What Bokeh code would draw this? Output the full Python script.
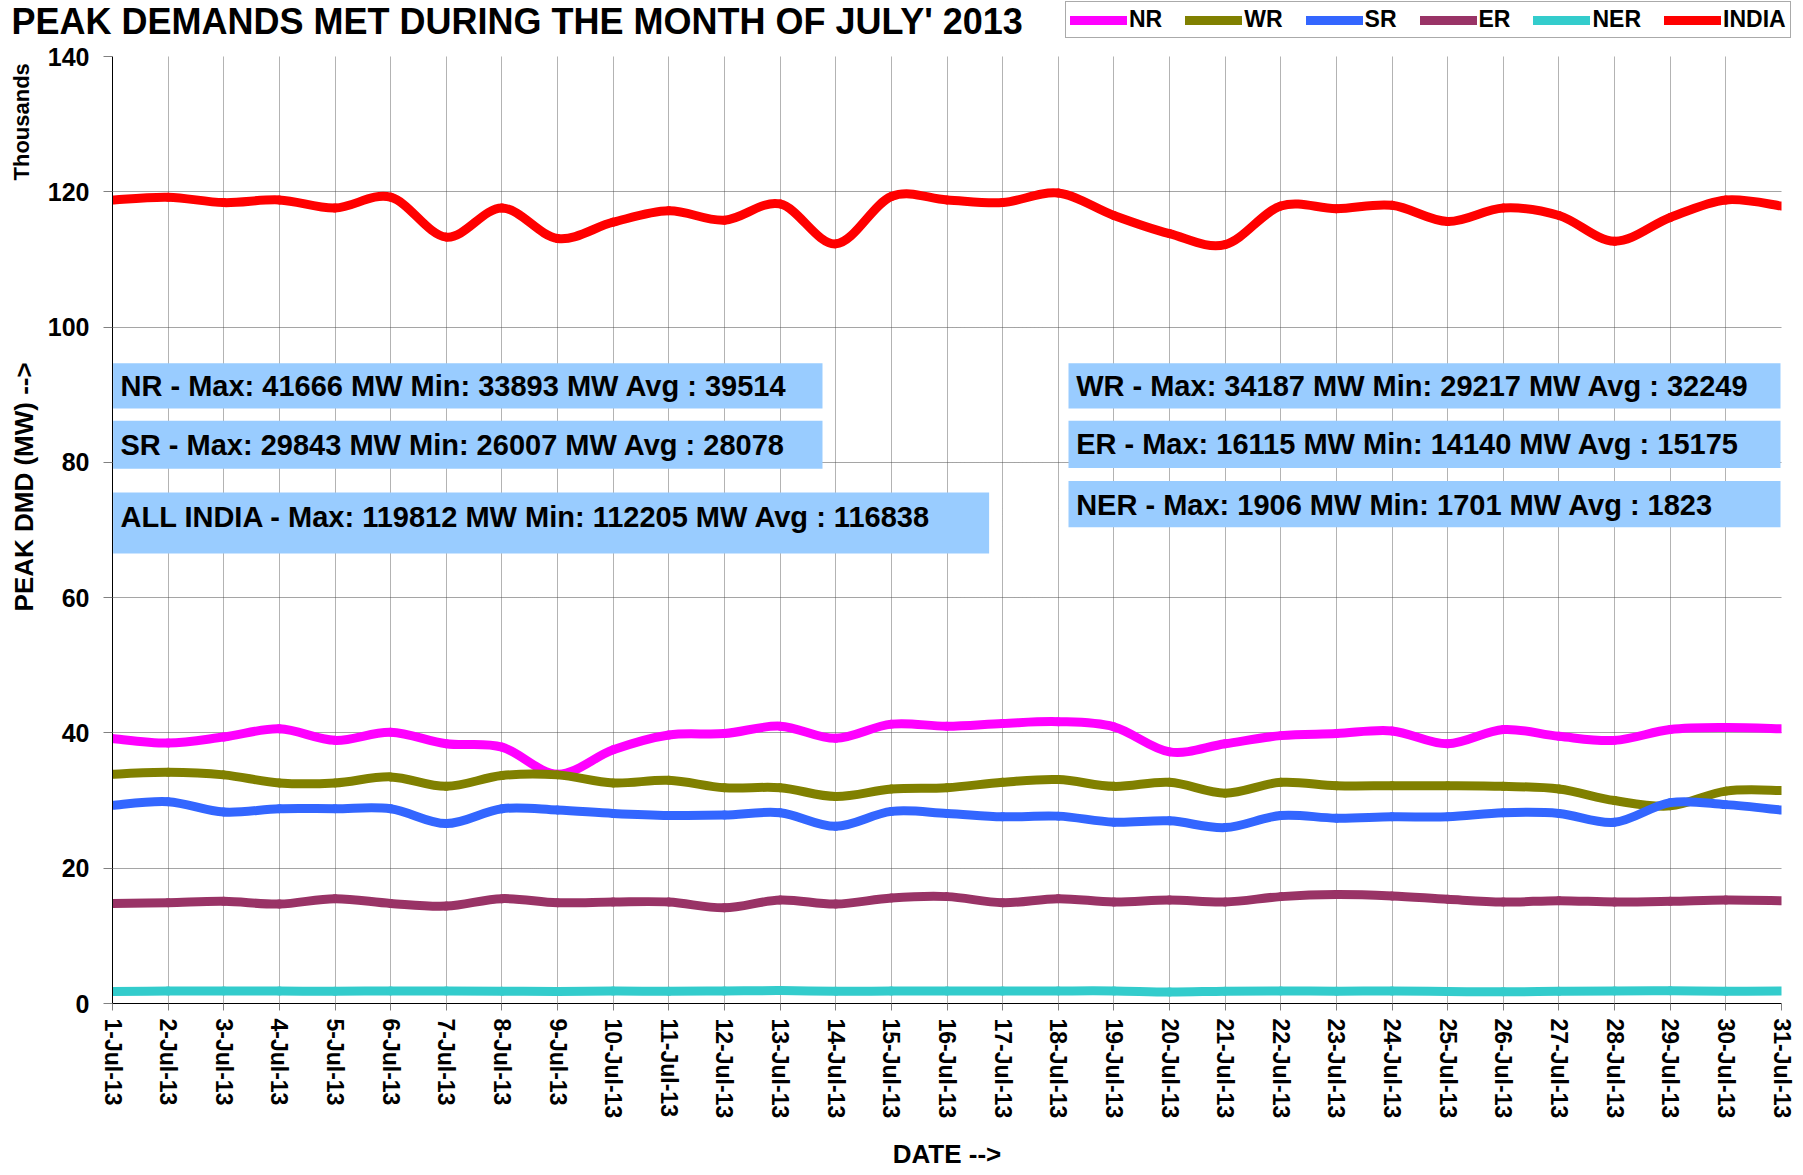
import math
from bokeh.plotting import figure
from bokeh.layouts import column, row
from bokeh.models import (FixedTicker, Label, BoxAnnotation, Legend, LegendItem,
                          ColumnDataSource, Range1d)
from bokeh.embed import file_html
from bokeh.resources import INLINE

# ---------------- data (MW) ----------------
days = list(range(1, 32))
date_labels = [f"{d}-Jul-13" for d in days]

nr = [39170, 38500, 39400, 40600, 38900, 40100, 38400, 37900, 33893, 37500,
      39700, 39900, 41000, 39200, 41300, 41000, 41400, 41666, 40900, 37200,
      38400, 39600, 39900, 40300, 38400, 40500, 39500, 38900, 40500, 40800, 40600]
wr = [33900, 34187, 33800, 32600, 32600, 33500, 32100, 33700, 33800, 32600,
      33000, 31900, 31900, 30600, 31700, 31900, 32700, 33100, 32100, 32700,
      31100, 32700, 32200, 32200, 32200, 32100, 31700, 30000, 29217, 31400, 31500]
sr = [29300, 29843, 28300, 28800, 28800, 28800, 26600, 28800, 28600, 28100,
      27800, 27850, 28200, 26200, 28400, 28100, 27600, 27700, 26800, 27000,
      26007, 27800, 27400, 27600, 27600, 28200, 28100, 26800, 29700, 29400, 28600]
er = [14800, 14900, 15100, 14700, 15500, 14800, 14400, 15500, 14900, 15000,
      15000, 14140, 15300, 14700, 15600, 15800, 14900, 15500, 15000, 15300,
      15000, 15800, 16115, 15900, 15400, 15000, 15200, 15000, 15100, 15300, 15200]
ner = [1780, 1850, 1860, 1850, 1800, 1860, 1850, 1820, 1760, 1830,
       1800, 1850, 1906, 1820, 1840, 1850, 1830, 1860, 1860, 1701,
       1820, 1860, 1820, 1840, 1780, 1720, 1800, 1860, 1870, 1820, 1850]
india = [118800, 119200, 118400, 118800, 117600, 119200, 113300, 117600, 113100, 115500,
         117200, 115800, 118200, 112300, 119300, 118800, 118400, 119812, 116500, 113800,
         112205, 117900, 117500, 118000, 115600, 117600, 116500, 112700, 116200, 118800, 117900]

series_names = ["NR", "WR", "SR", "ER", "NER", "INDIA"]
series_values = [nr, wr, sr, er, ner, india]
series_colors = ["#FF00FF", "#808000", "#3366FF", "#993366", "#33CCCC", "#FF0000"]

y_ticks = [0, 20, 40, 60, 80, 100, 120, 140]

title_text = "PEAK DEMANDS MET DURING THE MONTH OF JULY' 2013"
y_label_text = "PEAK DMD (MW) -->"
units_text = "Thousands"
x_label_text = "DATE -->"
left_stats = ["NR - Max: 41666 MW Min: 33893 MW Avg : 39514",
              "SR - Max: 29843 MW Min: 26007 MW Avg : 28078",
              "ALL INDIA - Max: 119812 MW Min: 112205 MW Avg : 116838"]
right_stats = ["WR - Max: 34187 MW Min: 29217 MW Avg : 32249",
               "ER - Max: 16115 MW Min: 14140 MW Avg : 15175",
               "NER - Max: 1906 MW Min: 1701 MW Avg : 1823"]

FONT = "Liberation Sans"
W, H = 1800, 1172
HEAD_H = 41
SIDE_W = 40
MAIN_H = H - HEAD_H


def bare(fig):
    fig.outline_line_color = None
    fig.background_fill_color = "white"
    fig.border_fill_color = "white"
    fig.xgrid.visible = False
    fig.ygrid.visible = False
    return fig


# ---------------- header (title + legend) ----------------
head = figure(width=W, height=HEAD_H, output_backend="svg", toolbar_location=None, title=None,
              x_range=Range1d(0, W), y_range=Range1d(0, HEAD_H),
              x_axis_type=None, y_axis_type=None,
              min_border_left=0, min_border_right=0, min_border_top=0, min_border_bottom=0)
bare(head)
head.add_layout(Label(x=11, y=HEAD_H / 2, text=title_text, text_font=FONT, text_font_size="36px",
                      text_font_style="bold", text_color="black", text_baseline="middle"))

legend_items = []
for name, col in zip(series_names, series_colors):
    proxy = head.line(x=[float("nan")], y=[float("nan")], line_color=col, line_width=9,
                      line_cap="round")
    legend_items.append(LegendItem(label=name, renderers=[proxy]))
legend = Legend(items=legend_items, orientation="horizontal", location=(1065, 3),
                label_text_font=FONT, label_text_font_size="23px", label_text_font_style="bold",
                label_text_color="black", glyph_width=57, glyph_height=16, label_standoff=2,
                spacing=23, padding=4, margin=0, border_line_color="#555555",
                border_line_width=1.5, background_fill_color="white", background_fill_alpha=1)
head.add_layout(legend)

# ---------------- side (units + y label) ----------------
side = figure(width=SIDE_W, height=MAIN_H, output_backend="svg", toolbar_location=None,
              title=None, x_range=Range1d(0, SIDE_W), y_range=Range1d(MAIN_H, 0),
              x_axis_type=None, y_axis_type=None,
              min_border_left=0, min_border_right=0, min_border_top=0, min_border_bottom=0)
bare(side)
side.add_layout(Label(x=21, y=78, text=units_text, text_font=FONT, text_font_size="22px",
                      text_font_style="bold", text_color="black", text_align="center",
                      text_baseline="middle", angle=math.pi / 2))
side.add_layout(Label(x=23, y=514, text=y_label_text, text_font=FONT, text_font_size="26px",
                      text_font_style="bold", text_color="black", text_align="center",
                      text_baseline="middle", angle=math.pi / 2))

# ---------------- main chart ----------------
p = figure(width=W - SIDE_W, height=MAIN_H, output_backend="svg", toolbar_location=None,
           title=None, x_range=Range1d(1, 31), y_range=Range1d(0, 140),
           min_border_left=112 - SIDE_W, min_border_right=19, min_border_top=15,
           min_border_bottom=169)
p.outline_line_color = None
p.background_fill_color = "white"

p.xaxis.ticker = FixedTicker(ticks=days)
p.xaxis.major_label_overrides = {d: lab for d, lab in zip(days, date_labels)}
p.xaxis.major_label_orientation = "vertical"
p.xaxis.major_label_text_font = FONT
p.xaxis.major_label_text_font_size = "23px"
p.xaxis.major_label_text_font_style = "bold"
p.xaxis.major_label_text_color = "black"
p.xaxis.major_label_standoff = 8
p.xaxis.major_tick_out = 7
p.xaxis.major_tick_in = 0
p.xaxis.major_tick_line_color = "#808080"
p.xaxis.minor_tick_line_color = None
p.xaxis.axis_line_color = "black"
p.xaxis.axis_label = x_label_text
p.xaxis.axis_label_text_font = FONT
p.xaxis.axis_label_text_font_size = "26px"
p.xaxis.axis_label_text_font_style = "bold"
p.xaxis.axis_label_text_color = "black"
p.xaxis.axis_label_standoff = 18

p.yaxis.ticker = FixedTicker(ticks=y_ticks)
p.yaxis.major_label_text_font = FONT
p.yaxis.major_label_text_font_size = "25px"
p.yaxis.major_label_text_font_style = "bold"
p.yaxis.major_label_text_color = "black"
p.yaxis.major_label_standoff = 14
p.yaxis.major_tick_out = 9
p.yaxis.major_tick_in = 0
p.yaxis.major_tick_line_color = "#808080"
p.yaxis.minor_tick_line_color = None
p.yaxis.axis_line_color = "black"

p.xgrid.grid_line_color = "#666666"
p.xgrid.grid_line_dash = "1 1"
p.ygrid.grid_line_color = "#4a4a4a"
p.ygrid.grid_line_dash = "1 1"


def smooth_segments(xs, ys, t=1.0 / 6.0):
    n = len(xs)
    out = {k: [] for k in ("x0", "y0", "x1", "y1", "cx0", "cy0", "cx1", "cy1")}
    for i in range(n - 1):
        xp, yp = (xs[i - 1], ys[i - 1]) if i > 0 else (xs[i], ys[i])
        xn, yn = (xs[i + 2], ys[i + 2]) if i + 2 < n else (xs[i + 1], ys[i + 1])
        out["x0"].append(xs[i]); out["y0"].append(ys[i])
        out["x1"].append(xs[i + 1]); out["y1"].append(ys[i + 1])
        out["cx0"].append(xs[i] + (xs[i + 1] - xp) * t)
        out["cy0"].append(ys[i] + (ys[i + 1] - yp) * t)
        out["cx1"].append(xs[i + 1] - (xn - xs[i]) * t)
        out["cy1"].append(ys[i + 1] - (yn - ys[i]) * t)
    return out


for name, vals, col in zip(series_names, series_values, series_colors):
    ys = [v / 1000.0 for v in vals]
    src = ColumnDataSource(smooth_segments(days, ys))
    p.bezier(x0="x0", y0="y0", x1="x1", y1="y1", cx0="cx0", cy0="cy0", cx1="cx1", cy1="cy1",
             source=src, line_color=col, line_width=9, line_cap="round")

# ---------------- stats boxes ----------------
box_color = "#99CCFF"
left_boxes = [(1.011, 13.762, 94.65, 87.96, 91.28),
              (1.011, 13.762, 86.16, 79.04, 82.55),
              (1.011, 16.757, 75.53, 66.52, 71.97)]
right_boxes = [(18.184, 30.982, 94.65, 87.96, 91.28),
               (18.184, 30.982, 86.16, 79.18, 82.65),
               (18.184, 30.982, 77.24, 70.41, 73.73)]
for (l, r, t, b, ty), txt in zip(left_boxes, left_stats):
    p.add_layout(BoxAnnotation(left=l, right=r, top=t, bottom=b, fill_color=box_color,
                               fill_alpha=1, line_color=None))
    p.add_layout(Label(x=1.144, y=ty, text=txt, text_font=FONT, text_font_size="29px",
                       text_font_style="bold", text_color="black", text_baseline="middle"))
for (l, r, t, b, ty), txt in zip(right_boxes, right_stats):
    p.add_layout(BoxAnnotation(left=l, right=r, top=t, bottom=b, fill_color=box_color,
                               fill_alpha=1, line_color=None))
    p.add_layout(Label(x=18.321, y=ty, text=txt, text_font=FONT, text_font_size="29px",
                       text_font_style="bold", text_color="black", text_baseline="middle"))

layout = column(head, row(side, p, spacing=0), spacing=0)
open("out.html", "w").write(file_html(layout, INLINE))
